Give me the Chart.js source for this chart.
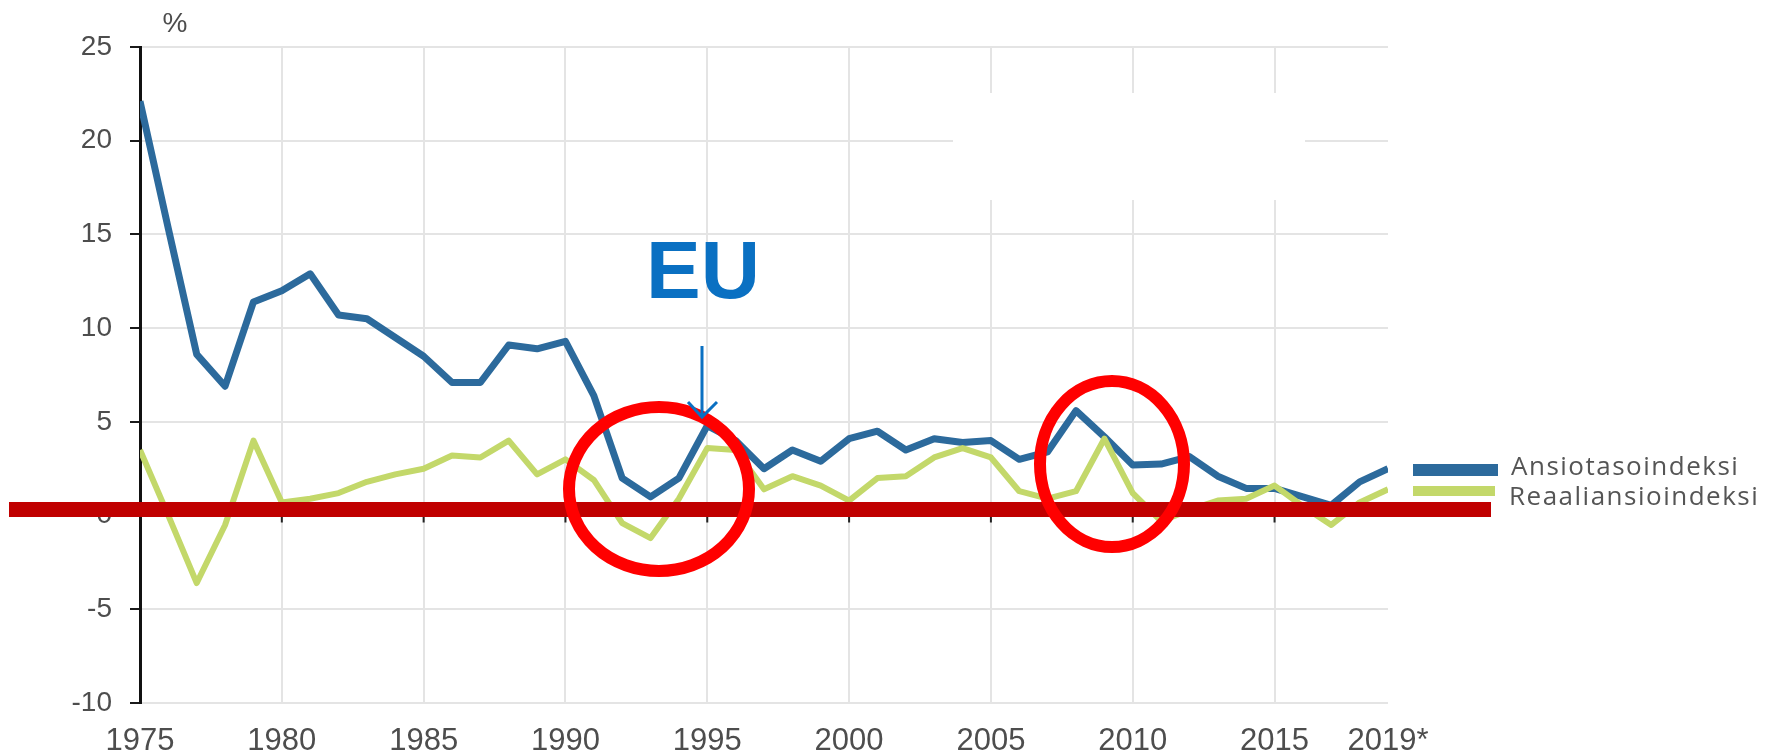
<!DOCTYPE html>
<html>
<head>
<meta charset="utf-8">
<script src="https://cdn.jsdelivr.net/npm/chart.js@4/dist/chart.umd.min.js"></script>
<style>
  html, body { margin: 0; padding: 0; background: #fff; }
  canvas { display: block; }
</style>
</head>
<body>
<canvas id="chart" width="1777" height="755"></canvas>
<script>
  /* ===== Data ===== */
  const years = [
    1975, 1976, 1977, 1978, 1979, 1980, 1981, 1982, 1983, 1984,
    1985, 1986, 1987, 1988, 1989, 1990, 1991, 1992, 1993, 1994,
    1995, 1996, 1997, 1998, 1999, 2000, 2001, 2002, 2003, 2004,
    2005, 2006, 2007, 2008, 2009, 2010, 2011, 2012, 2013, 2014,
    2015, 2016, 2017, 2018, 2019
  ];
  const ansiotasoindeksi = [
    22.1, 15.3, 8.6, 6.9, 11.4, 12.0, 12.9, 10.7, 10.5, 9.5,
    8.5, 7.1, 7.1, 9.1, 8.9, 9.3, 6.4, 2.0, 1.0, 2.0,
    4.8, 4.0, 2.5, 3.5, 2.9, 4.1, 4.5, 3.5, 4.1, 3.9,
    4.0, 3.0, 3.4, 5.6, 4.2, 2.7, 2.75, 3.15, 2.1, 1.45,
    1.45, 1.0, 0.55, 1.8, 2.5
  ];
  const reaaliansioindeksi = [
    3.5, 0.0, -3.6, -0.5, 4.0, 0.7, 0.9, 1.2, 1.8, 2.2,
    2.5, 3.2, 3.1, 4.0, 2.2, 3.0, 1.9, -0.4, -1.2, 0.9,
    3.6, 3.5, 1.4, 2.1, 1.6, 0.8, 2.0, 2.1, 3.1, 3.6,
    3.1, 1.3, 0.9, 1.3, 4.1, 1.2, -0.3, 0.3, 0.8, 0.9,
    1.6, 0.5, -0.5, 0.7, 1.4
  ];
  const seriesNames = ['Ansiotasoindeksi', 'Reaaliansioindeksi'];
  const xTickYears = [1975, 1980, 1985, 1990, 1995, 2000, 2005, 2010, 2015, 2019];
  const xTickLabels = ['1975', '1980', '1985', '1990', '1995', '2000', '2005', '2010', '2015', '2019*'];
  const yTicks = [-10, -5, 0, 5, 10, 15, 20, 25];

  const BLUE = '#2c6a9c';
  const GREEN = '#c3d86a';
  const TEXT = '#4d4d4d';

  function points(values) {
    return years.map((y, i) => ({ x: y, y: values[i] }));
  }

  /* ===== Overlay drawing ===== */
  const overlay = {
    id: 'overlay',
    beforeDatasetsDraw(chart) {
      const { ctx, scales: { x, y } } = chart;
      ctx.save();
      // blanked-out patch in the upper right
      ctx.fillStyle = '#fff';
      ctx.fillRect(953, 93, 352, 107);
      // zero axis line and its tick marks
      const y0 = y.getPixelForValue(0);
      ctx.strokeStyle = '#222';
      ctx.lineWidth = 2;
      ctx.beginPath();
      ctx.moveTo(x.getPixelForValue(1975), y0);
      ctx.lineTo(x.getPixelForValue(2019), y0);
      xTickYears.slice(1, -1).forEach(v => {
        const px = x.getPixelForValue(v);
        ctx.moveTo(px, y0);
        ctx.lineTo(px, y0 + 7);
      });
      ctx.stroke();
      ctx.restore();
    },
    afterDraw(chart) {
      const { ctx } = chart;
      ctx.save();

      // thick dark red line
      ctx.fillStyle = '#c00000';
      ctx.fillRect(9, 502, 1482, 15);

      // red circles
      ctx.strokeStyle = '#ff0000';
      ctx.lineWidth = 12;
      ctx.beginPath();
      ctx.ellipse(659, 489, 90, 82, 0, 0, Math.PI * 2);
      ctx.stroke();
      ctx.beginPath();
      ctx.ellipse(1112, 464, 72, 83, 0, 0, Math.PI * 2);
      ctx.stroke();

      // EU label and arrow
      ctx.fillStyle = '#0a70c2';
      ctx.font = 'bold 82px "Liberation Sans", Arial, sans-serif';
      ctx.textAlign = 'center';
      ctx.textBaseline = 'alphabetic';
      ctx.fillText('EU', 703, 298);
      ctx.strokeStyle = '#0a70c2';
      ctx.lineWidth = 3;
      ctx.beginPath();
      ctx.moveTo(702, 346);
      ctx.lineTo(702, 416);
      ctx.moveTo(688, 402);
      ctx.lineTo(702, 417);
      ctx.lineTo(717, 402);
      ctx.stroke();

      // unit label
      ctx.fillStyle = TEXT;
      ctx.font = '28px "Liberation Sans", Arial, sans-serif';
      ctx.fillText('%', 175, 32);

      // legend
      ctx.fillStyle = BLUE;
      ctx.fillRect(1413, 464, 85, 12);
      ctx.fillStyle = GREEN;
      ctx.fillRect(1413, 486, 82, 10);
      ctx.fillStyle = '#555';
      ctx.textAlign = 'left';
      ctx.font = '26px "Open Sans", sans-serif';
      ctx.letterSpacing = '1.5px';
      ctx.fillText(seriesNames[0], 1511, 475);
      ctx.fillText(seriesNames[1], 1509, 505);

      ctx.restore();
    }
  };

  /* ===== Chart ===== */
  new Chart(document.getElementById('chart'), {
    type: 'line',
    data: {
      datasets: [
        {
          label: seriesNames[1],
          data: points(reaaliansioindeksi),
          borderColor: GREEN,
          borderWidth: 6,
          borderJoinStyle: 'round',
          pointRadius: 0,
          tension: 0,
          order: 0
        },
        {
          label: seriesNames[0],
          data: points(ansiotasoindeksi),
          borderColor: BLUE,
          borderWidth: 7,
          borderJoinStyle: 'round',
          pointRadius: 0,
          tension: 0,
          order: 1
        }
      ]
    },
    options: {
      responsive: false,
      devicePixelRatio: 1,
      animation: false,
      layout: { padding: { left: 0, right: 389, top: 47, bottom: 0 } },
      plugins: {
        legend: { display: false },
        tooltip: { enabled: false }
      },
      scales: {
        x: {
          type: 'linear',
          min: 1975,
          max: 2019,
          afterBuildTicks: s => { s.ticks = xTickYears.map(v => ({ value: v })); },
          afterFit: s => { s.height = 52; },
          ticks: {
            autoSkip: false,
            maxRotation: 0,
            padding: 20,
            color: TEXT,
            font: { family: '"Liberation Sans", Arial, sans-serif', size: 31 },
            callback: v => xTickLabels[xTickYears.indexOf(v)]
          },
          grid: {
            drawTicks: false,
            lineWidth: 2,
            color: c => (c.tick && (c.tick.value === 1975 || c.tick.value === 2019)) ? 'rgba(0,0,0,0)' : '#e4e4e4'
          },
          border: { display: false }
        },
        y: {
          min: -10,
          max: 25,
          afterBuildTicks: s => { s.ticks = yTicks.map(v => ({ value: v })); },
          afterFit: s => { s.width = 140; },
          ticks: {
            padding: 18,
            color: TEXT,
            font: { family: '"Liberation Sans", Arial, sans-serif', size: 28 }
          },
          grid: {
            color: '#e4e4e4',
            lineWidth: 2,
            tickColor: '#1a1a1a',
            tickLength: 10,
            tickWidth: 2
          },
          border: { color: '#111', width: 3 }
        }
      }
    },
    plugins: [overlay]
  });
</script>
</body>
</html>
